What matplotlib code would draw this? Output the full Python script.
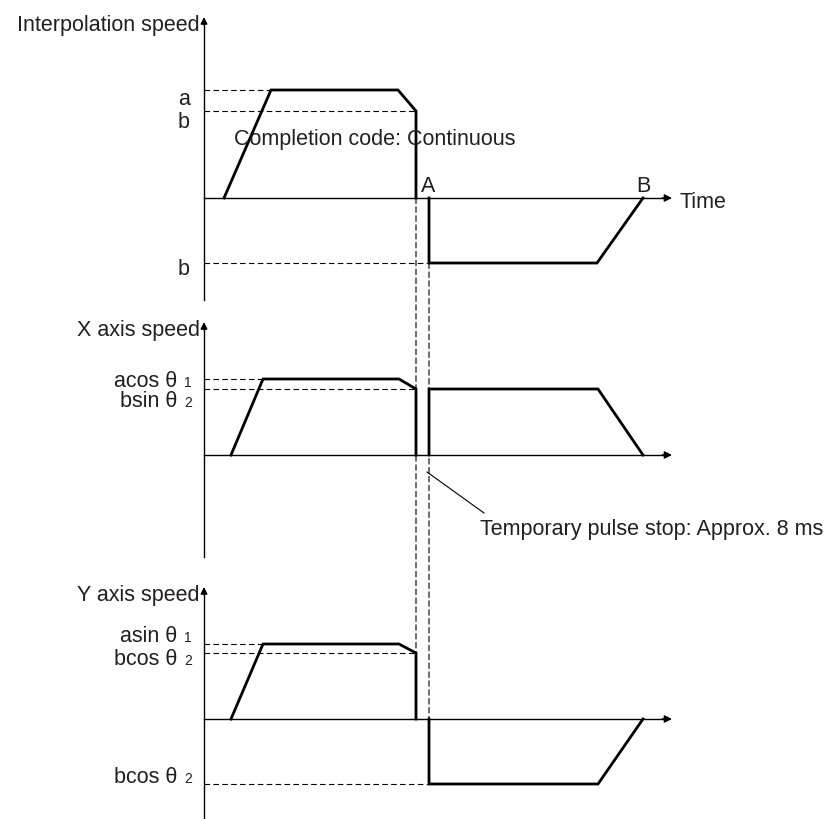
import matplotlib.pyplot as plt
from matplotlib.patches import ConnectionPatch

plt.rcParams['font.family'] = ['Liberation Sans', 'DejaVu Sans']

# time break points (same units in every panel)
t_interp = [20, 67, 194, 212, 212]
t_interp_back = [225, 225, 393, 439]
t_axis = [27, 59, 195, 212, 212]
t_axis_back = [225, 225, 394, 439]
t_end = 468

# speed levels
interp_v = [0, 108, 108, 87, 0]
interp_back_v = [0, -65, -65, 0]
x_v = [0, 76, 76, 66, 0]
x_back_v = [0, 66, 66, 0]
y_v = [0, 75, 75, 66, 0]
y_back_v = [0, -65, -65, 0]

# pixel row of each panel's time axis, and extent of its speed axis
zero_rows = [198, 455, 719]
axis_top = [181, 133, 132]
axis_bottom = [-102, -102, -100]

titles = ['Interpolation speed', 'X axis speed', 'Y axis speed']

txt = '#231f20'
FS = 15.5
SUB = 10

fig = plt.figure(figsize=(8.39, 8.19), dpi=100)
axes = []
for z in zero_rows:
    ax = fig.add_axes([0, 0, 1, 1])
    ax.set_xlim(-204, 839 - 204)
    ax.set_ylim(z - 819, z)
    ax.axis('off')
    ax.patch.set_alpha(0)
    axes.append(ax)

for ax, title, top, bot in zip(axes, titles, axis_top, axis_bottom):
    ax.plot([0, 0], [bot, top - 5], color='black', lw=1.0)
    ax.annotate('', xy=(0, top), xytext=(0, top - 8),
                arrowprops=dict(arrowstyle='-|>', color='black', lw=1.0,
                                mutation_scale=10, shrinkA=0, shrinkB=0))
    ax.plot([0, t_end - 6], [0, 0], color='black', lw=1.0)
    ax.annotate('', xy=(t_end, 0), xytext=(t_end - 10, 0),
                arrowprops=dict(arrowstyle='-|>', color='black', lw=1.0,
                                mutation_scale=11, shrinkA=0, shrinkB=0))
    ax.text(-4, top - 14, title, ha='right', va='baseline', fontsize=FS, color=txt)

dash = dict(color='black', lw=0.8, ls=(0, (5, 3)))
thick = dict(color='black', lw=2.0, solid_joinstyle='miter')

# interpolation speed
a1 = axes[0]
a1.plot([0, t_interp[1]], [interp_v[1]] * 2, **dash)
a1.plot([0, t_interp[3]], [interp_v[3]] * 2, **dash)
a1.plot([0, t_interp_back[0]], [interp_back_v[1]] * 2, **dash)
a1.plot(t_interp, interp_v, **thick)
a1.plot(t_interp_back, interp_back_v, **thick)
a1.text(-14, interp_v[1] - 15, 'a', ha='right', va='baseline', fontsize=FS, color=txt)
a1.text(-14, interp_v[3] - 17, 'b', ha='right', va='baseline', fontsize=FS, color=txt)
a1.text(-14, interp_back_v[1] - 12, 'b', ha='right', va='baseline', fontsize=FS, color=txt)
a1.text(30, 53, 'Completion code: Continuous', ha='left', va='baseline', fontsize=FS, color=txt)
a1.text(t_interp_back[0] - 8, 6, 'A', ha='left', va='baseline', fontsize=FS, color=txt)
a1.text(t_interp_back[-1], 6, 'B', ha='center', va='baseline', fontsize=FS, color=txt)
a1.text(t_end + 8, -5, 'Time', ha='left', va='center', fontsize=FS, color=txt)


def level_label(ax, v, main, sub):
    ax.text(-27, v, main, ha='right', va='baseline', fontsize=FS, color=txt)
    ax.text(-12, v, sub, ha='right', va='baseline', fontsize=SUB, color=txt)


# X axis speed
a2 = axes[1]
a2.plot([0, t_axis[1]], [x_v[1]] * 2, **dash)
a2.plot([0, t_axis[3]], [x_v[3]] * 2, **dash)
a2.plot(t_axis, x_v, **thick)
a2.plot(t_axis_back, x_back_v, **thick)
level_label(a2, x_v[1] - 8, 'acos θ', '1')
level_label(a2, x_v[3] - 18, 'bsin θ', '2')
a2.plot([223, 280], [-17, -58], color='black', lw=0.8)
a2.text(276, -80, 'Temporary pulse stop: Approx. 8 ms', ha='left', va='baseline',
        fontsize=FS, color=txt)

# Y axis speed
a3 = axes[2]
a3.plot([0, t_axis[1]], [y_v[1]] * 2, **dash)
a3.plot([0, t_axis[3]], [y_v[3]] * 2, **dash)
a3.plot([0, t_axis_back[0]], [y_back_v[1]] * 2, **dash)
a3.plot(t_axis, y_v, **thick)
a3.plot(t_axis_back, y_back_v, **thick)
level_label(a3, y_v[1] + 2, 'asin θ', '1')
level_label(a3, y_v[3] - 12, 'bcos θ', '2')
level_label(a3, y_back_v[1] + 1, 'bcos θ', '2')

# dashed guides running through all three panels
for ta, va_, vb in [(t_interp[3], 0, y_v[3]), (t_interp_back[0], interp_back_v[1], 0)]:
    con = ConnectionPatch(xyA=(ta, va_), coordsA=a1.transData,
                          xyB=(ta, vb), coordsB=a3.transData,
                          color='black', lw=0.8, ls=(0, (5, 3)))
    fig.add_artist(con)

fig.savefig('out.png', dpi=100)
